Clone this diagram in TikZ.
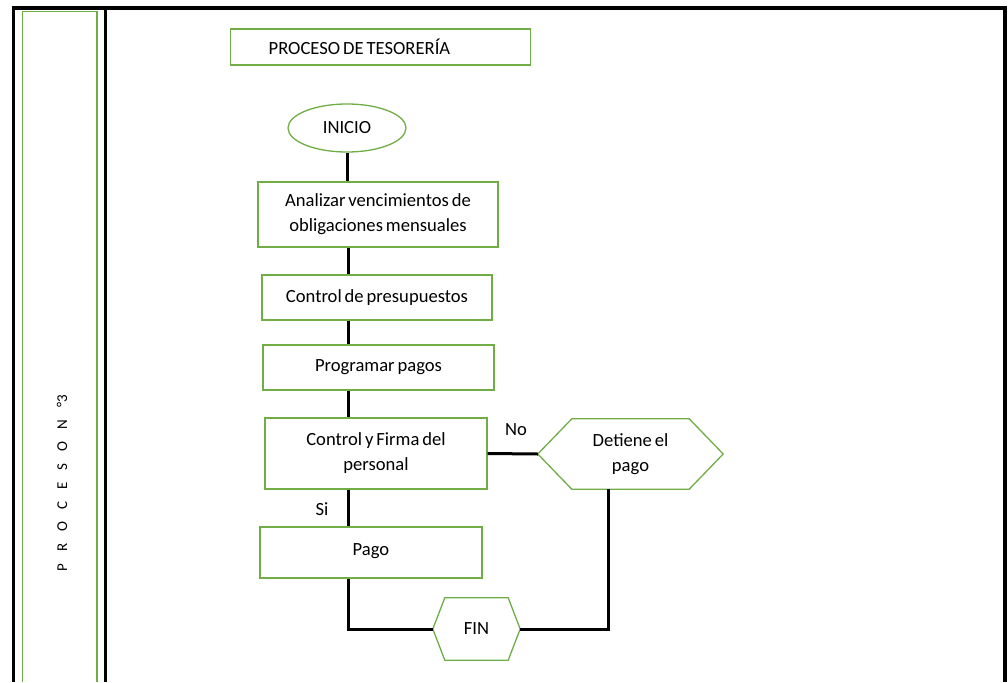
\documentclass[tikz,border=0pt]{standalone}
\usepackage{fontspec}
\setmainfont{Carlito}[WordSpace=0.7]
\usetikzlibrary{shapes.geometric}
\definecolor{boxgreen}{RGB}{112,173,71}
\tikzset{
  frameline/.style={line width=3.5pt, black},
  greenline/.style={draw=boxgreen, line width=1.3pt},
  flowbox/.style={greenline, rectangle, align=center, inner sep=0pt,
    font=\fontsize{18.6}{25}\selectfont},
  startnode/.style={greenline, ellipse, inner sep=0pt,
    font=\fontsize{18.6}{25}\selectfont},
  hexnode/.style={rectangle, draw=none, align=center, inner sep=0pt,
    font=\fontsize{18.6}{25}\selectfont},
  link/.style={line width=3pt, black},
  tag/.style={inner sep=0pt, font=\fontsize{18.6}{22}\selectfont}
}
% elongated hexagon drawn round a named node; #2 is the depth of the points
\newcommand\hexoutline[2]{%
  \draw[greenline] (#1.west) -- ([xshift=#2]#1.north west)
    -- ([xshift=-#2]#1.north east) -- (#1.east)
    -- ([xshift=-#2]#1.south east) -- ([xshift=#2]#1.south west) -- cycle;}
\begin{document}
\begin{tikzpicture}[x=1pt, y=-1pt]
\useasboundingbox (0,0) rectangle (1008,682);

% page frame and side column
\draw[frameline] (13.5,682) -- (13.5,8) -- (1005,8) -- (1005,682);
\draw[frameline] (105.5,8) -- (105.5,682);
\draw[greenline] (22.7,682) -- (22.7,11.7) -- (97,11.7) -- (97,682);
\node[rotate=90, inner sep=0pt, font=\fontsize{15}{17}\selectfont] (side) at (62,483)
  {\spaceskip=12pt P R O C E S O N °3};

% heading
\node[flowbox, anchor=west, minimum width=300pt, minimum height=36pt,
      text width=224pt, inner xsep=38pt, align=left] (title) at (230,47)
  {\spaceskip=3pt PROCESO DE TESORERÍA};

% flow nodes
\node[startnode, minimum width=118pt, minimum height=48pt] (inicio) at (347,128) {INICIO};
\node[flowbox, minimum width=240pt, minimum height=65pt] (b1) at (378,214.5)
  {Analizar vencimientos de\\obligaciones mensuales};
\node[flowbox, minimum width=230pt, minimum height=45pt] (b2) at (377,297.5)
  {Control de presupuestos};
\node[flowbox, minimum width=231pt, minimum height=45pt] (b3) at (378.5,367.5)
  {Programar pagos};
\node[flowbox, minimum width=222pt, minimum height=71pt] (b4) at (376,453.5)
  {Control y Firma del\\personal};
\node[hexnode, minimum width=185pt, minimum height=70pt] (det) at (630.5,454)
  {Detiene el\\pago};
\hexoutline{det}{34pt}
\node[flowbox, minimum width=222pt, minimum height=51pt] (pago) at (371,552.5)
  {\raisebox{5pt}{Pago}};
\node[hexnode, minimum width=87pt, minimum height=62pt] (fin) at (476.5,629) {FIN};
\hexoutline{fin}{12pt}

\node[tag] (no) at (516,430) {No};
\node[tag] (si) at (322,509) {Si};

% connectors
\coordinate (spine) at (348,0);
\draw[link] (inicio.south) -- (inicio.south |- b1.north);
\draw[link] (b1.south -| spine) -- (b2.north -| spine);
\draw[link] (b2.south -| spine) -- (b3.north -| spine);
\draw[link] (b3.south -| spine) -- (b4.north -| spine);
\draw[link] (b4.south -| spine) -- (pago.north -| spine);
\draw[link] (pago.south -| spine) |- (fin.west);
\draw[link] (b4.east) -- (det.west);
\draw[link] (fin.east) -| ([xshift=-22.5pt]det.south);
\end{tikzpicture}
\end{document}
